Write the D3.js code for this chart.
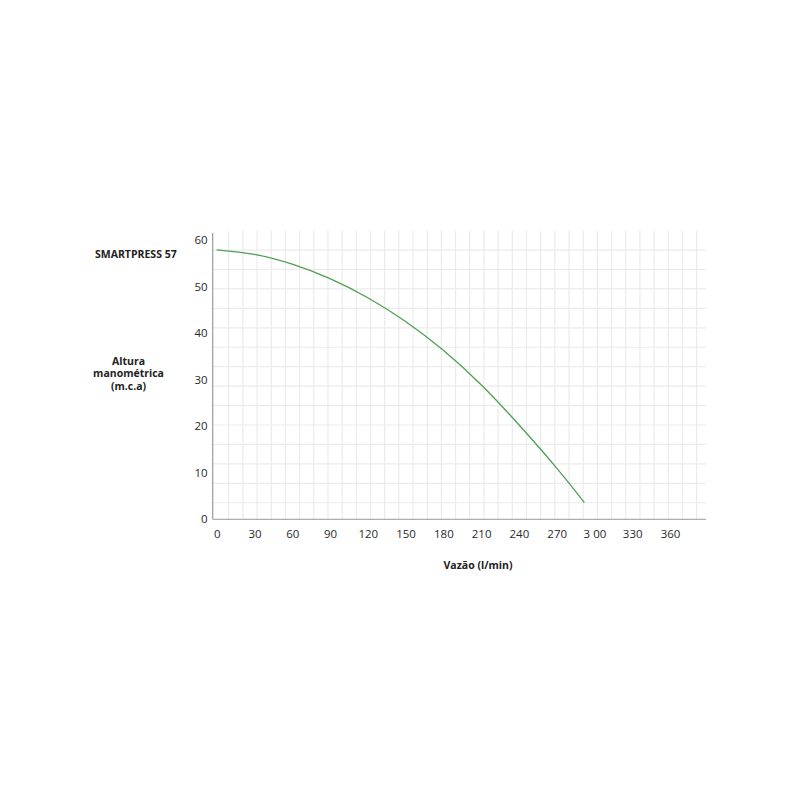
<!DOCTYPE html>
<html>
<head>
<meta charset="utf-8">
<script src="https://cdn.jsdelivr.net/npm/d3@7"></script>
<style>
  html, body { margin: 0; padding: 0; background: #fff; }
  svg { display: block; }
  text { font-family: "Open Sans", "DejaVu Sans", sans-serif; }
</style>
</head>
<body>
<svg id="chart" width="800" height="800"></svg>
<script>
// ---- data ----
const seriesName = "SMARTPRESS 57";
const flow = [0, 30, 60, 90, 120, 150, 180, 210, 240, 270, 292];                 // Vazão (l/min)
const head = [57.9, 56.9, 54.8, 51.7, 47.6, 42.5, 36.3, 28.9, 20.3, 11.0, 3.6];   // Altura (m.c.a)
const xTicks = [0, 30, 60, 90, 120, 150, 180, 210, 240, 270, 300, 330, 360];
const xTickLabels = ["0", "30", "60", "90", "120", "150", "180", "210", "240", "270", "3 00", "330", "360"];
const yTicks = [0, 10, 20, 30, 40, 50, 60];
const yTitle = ["Altura", "manométrica", "(m.c.a)"];
const xTitle = "Vazão (l/min)";

// ---- layout ----
const svg = d3.select("#chart");
const plot = { left: 212.7, right: 706, top: 230.6, bottom: 519.3 };

const x = d3.scaleLinear().domain([0, 360]).range([216.7, 670]);
const y = d3.scaleLinear().domain([0, 60]).range([plot.bottom, 240]);

// decorative background grid (independent of tick spacing, as in the reference)
const rowH = 19.44, colW = 14.18;
const gridY = d3.range(1, 15).map(k => plot.top + rowH * k);
const gridX = d3.range(0, 34).map(k => 228.7 + colW * k);

const g = svg.append("g");
g.selectAll("line.gh").data(gridY).join("line")
  .attr("x1", plot.left).attr("x2", plot.right)
  .attr("y1", d => d).attr("y2", d => d)
  .attr("stroke", "#ebebeb").attr("stroke-width", 1.2);
g.selectAll("line.gv").data(gridX).join("line")
  .attr("x1", d => d).attr("x2", d => d)
  .attr("y1", plot.top).attr("y2", plot.bottom)
  .attr("stroke", "#ebebeb").attr("stroke-width", 1.2);

// axes lines
g.append("line").attr("x1", plot.left).attr("x2", plot.right)
  .attr("y1", plot.bottom).attr("y2", plot.bottom)
  .attr("stroke", "#9a9a9a").attr("stroke-width", 1);
g.append("line").attr("x1", plot.left).attr("x2", plot.left)
  .attr("y1", 233).attr("y2", plot.bottom)
  .attr("stroke", "#9a9a9a").attr("stroke-width", 1.2);

// x axis
const xAxis = d3.axisBottom(x).tickValues(xTicks)
  .tickFormat((d, i) => xTickLabels[i]).tickSize(0).tickPadding(11);
const gx = svg.append("g").attr("transform", `translate(0,${plot.bottom})`).call(xAxis);
gx.select(".domain").remove();
gx.selectAll("text").attr("font-size", "11.5px").attr("fill", "#2a2a2a")
  .attr("font-family", "'Open Sans', sans-serif");

// y axis
const yAxis = d3.axisLeft(y).tickValues(yTicks).tickSize(0).tickPadding(5);
const gy = svg.append("g").attr("transform", `translate(${plot.left},0)`).call(yAxis);
gy.select(".domain").remove();
gy.selectAll("text").attr("font-size", "11.5px").attr("fill", "#2a2a2a")
  .attr("font-family", "'Open Sans', sans-serif");

// curve
const line = d3.line()
  .x((d, i) => x(flow[i]))
  .y(d => y(d))
  .curve(d3.curveNatural);
svg.append("path").datum(head)
  .attr("d", line)
  .attr("fill", "none")
  .attr("stroke", "#4f9e55")
  .attr("stroke-width", 1.3);

// series name
svg.append("text").attr("x", 95).attr("y", 258)
  .attr("font-size", "10.5px").attr("font-weight", "bold").attr("fill", "#222")
  .text(seriesName);

// y title
svg.append("text").attr("text-anchor", "middle")
  .attr("font-size", "10.5px").attr("font-weight", "bold").attr("fill", "#222")
  .selectAll("tspan").data(yTitle).join("tspan")
  .attr("x", 128.5).attr("y", (d, i) => 364.5 + i * 12.5)
  .text(d => d);

// x title
svg.append("text").attr("x", 478).attr("y", 568.5).attr("text-anchor", "middle")
  .attr("font-size", "10.5px").attr("font-weight", "bold").attr("fill", "#222")
  .text(xTitle);
</script>
</body>
</html>
